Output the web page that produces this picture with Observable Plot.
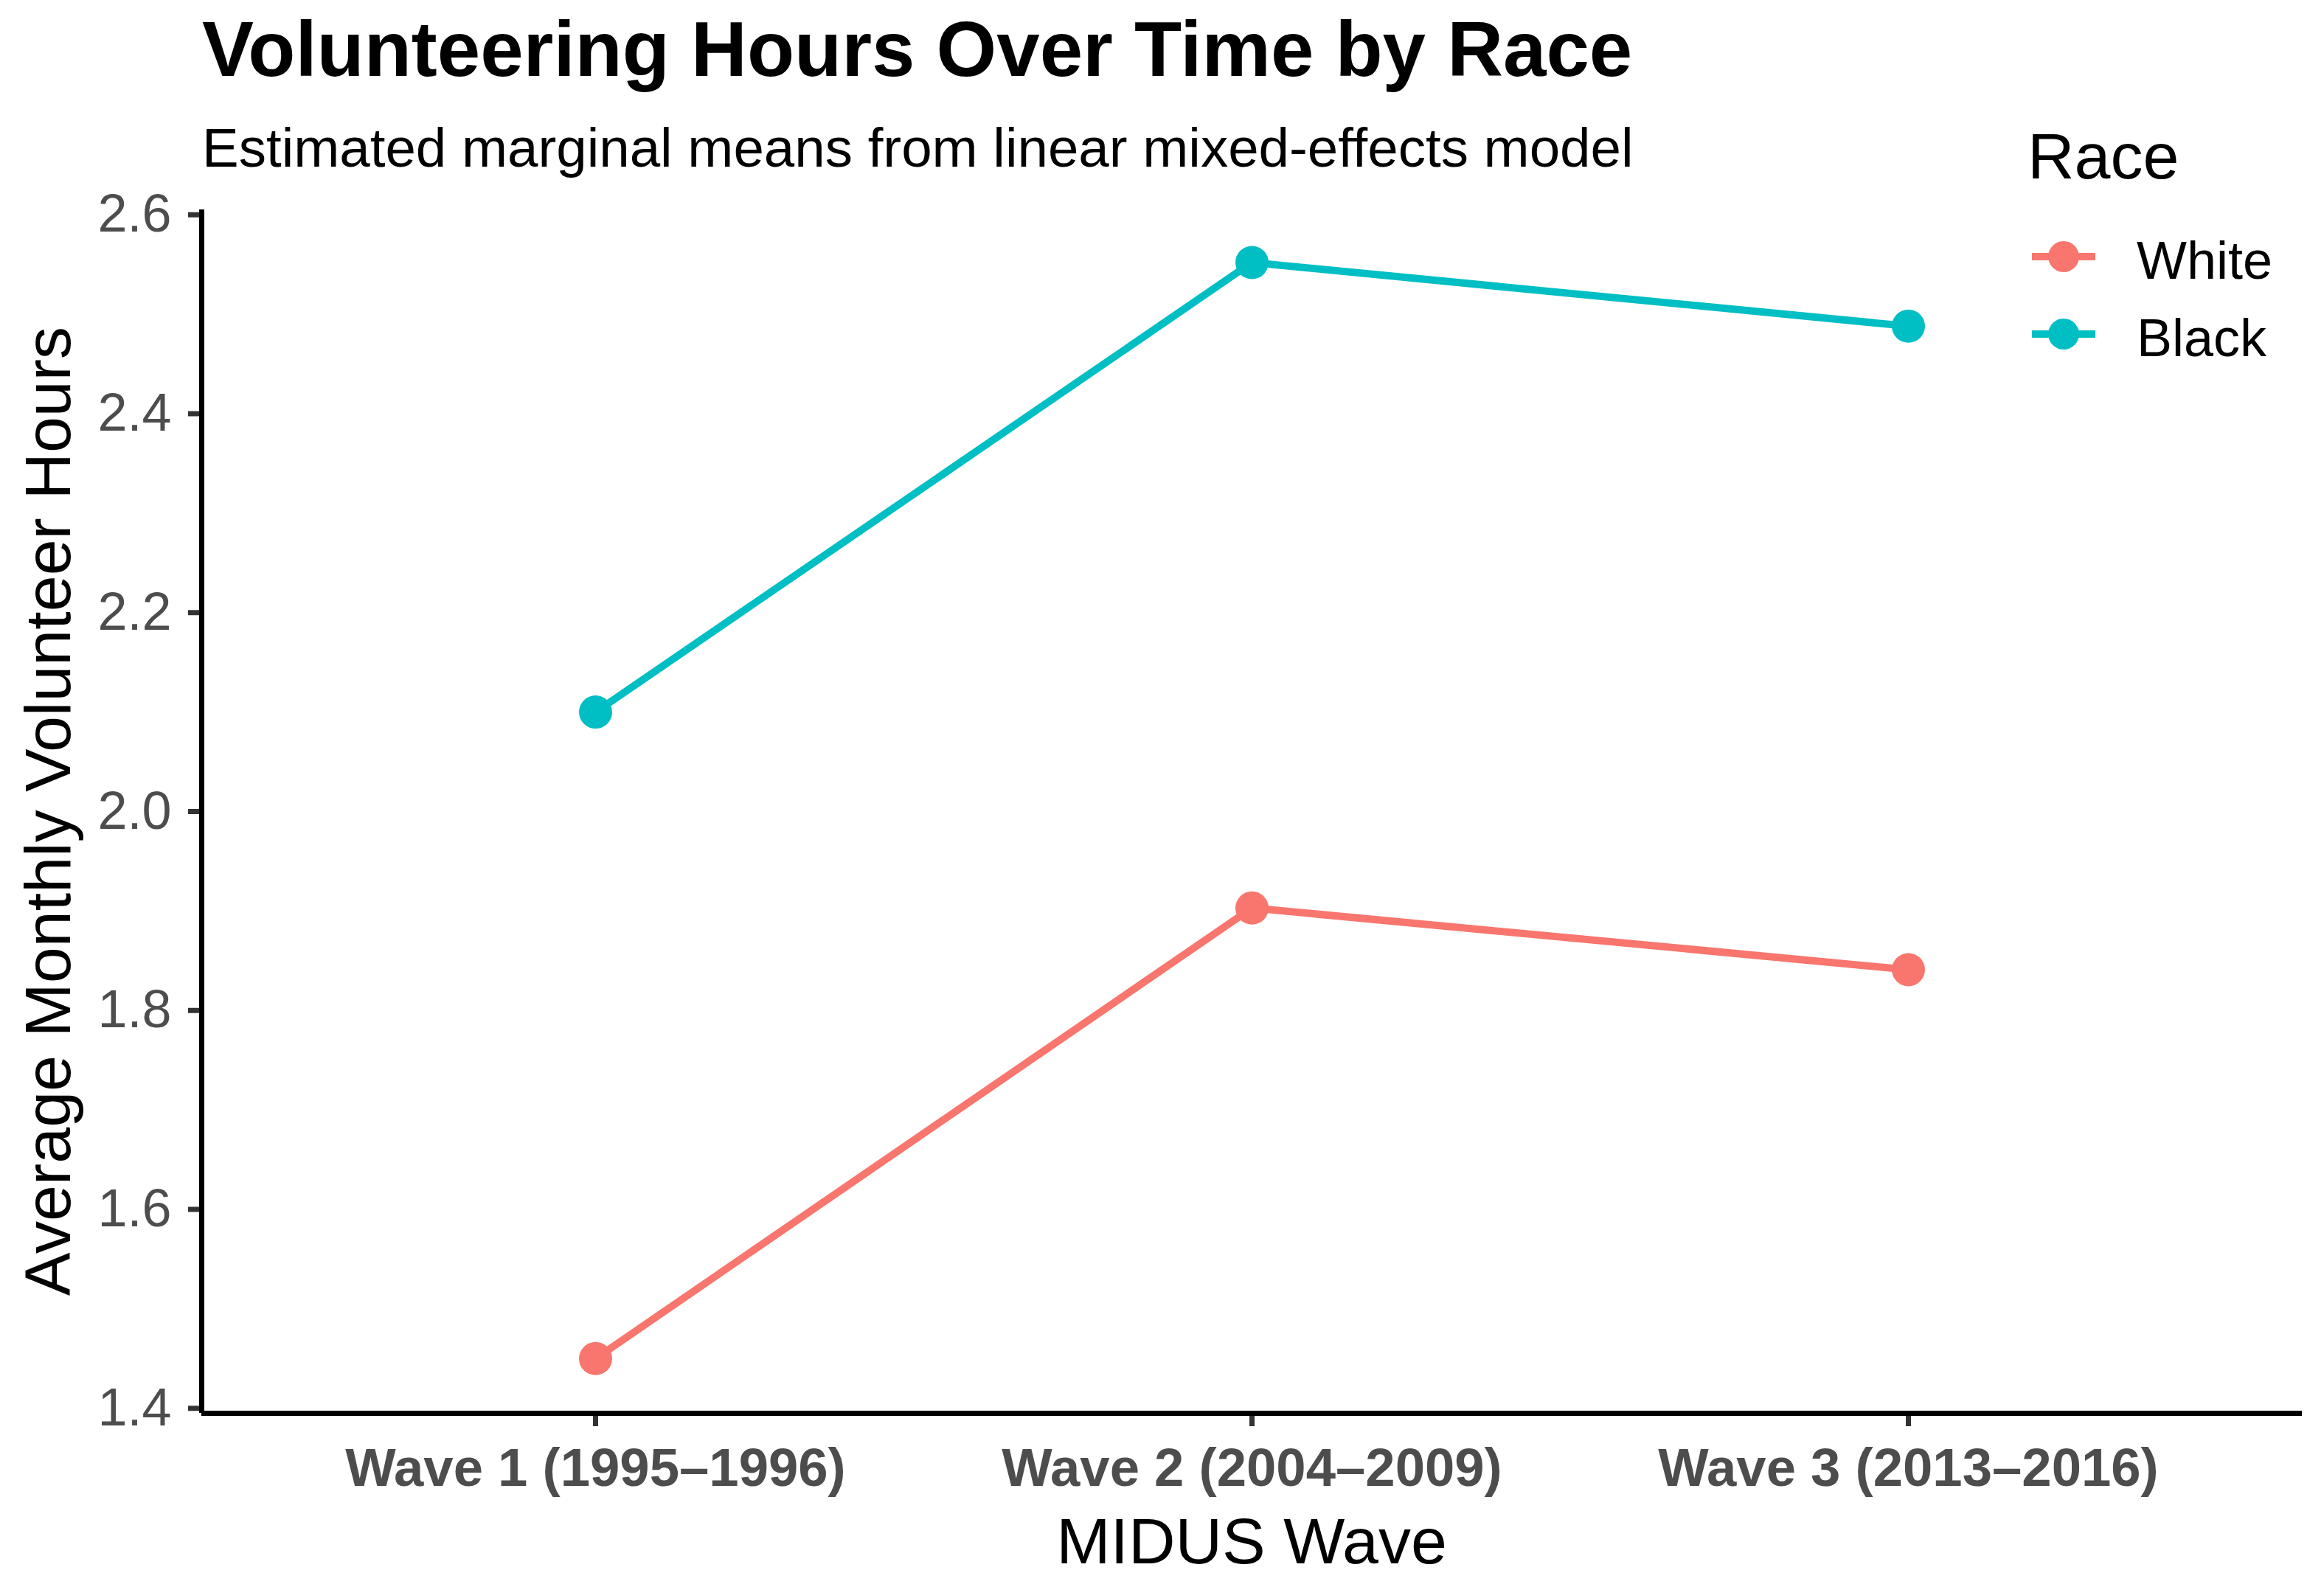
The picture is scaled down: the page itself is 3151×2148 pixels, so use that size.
<!DOCTYPE html>
<html>
<head>
<meta charset="utf-8">
<script src="https://cdn.jsdelivr.net/npm/d3@7"></script>
<script src="https://cdn.jsdelivr.net/npm/@observablehq/plot@0.6"></script>
<style>
  html, body { margin: 0; padding: 0; background: #ffffff; }
  #wrap { position: relative; width: 3151px; height: 2148px; overflow: hidden;
          font-family: "Liberation Sans", Arial, sans-serif; background: #fff; }
  .abs { position: absolute; line-height: 1; white-space: nowrap; }
  #chart { position: absolute; left: 0; top: 0; }
</style>
</head>
<body>
<div id="wrap">
  <div id="chart"></div>
  <div id="title" class="abs" style="left:274px; top:14px; font-size:105px; font-weight:bold; color:#000;"></div>
  <div id="subtitle" class="abs" style="left:274px; top:164px; font-size:74.5px; color:#000;"></div>
  <div id="xtitle" class="abs" style="left:697px; width:2000px; text-align:center; top:2046px; font-size:88px; color:#000;"></div>
  <div id="ytitle" class="abs" style="left:-935px; width:2000px; text-align:center; top:1056px; height:88px; font-size:88px; color:#000; transform:rotate(-90deg); transform-origin:50% 50%;"></div>
  <div id="legend"></div>
</div>
<script>
// ---- Data ----
const waves = ["Wave 1 (1995–1996)", "Wave 2 (2004–2009)", "Wave 3 (2013–2016)"];
const races = ["White", "Black"];
const whiteHours = [1.45, 1.903, 1.841];
const blackHours = [2.10, 2.552, 2.488];
const raceColors = ["#F8766D", "#00BFC4"];
const yTicks = [1.4, 1.6, 1.8, 2.0, 2.2, 2.4, 2.6];

const titleText = "Volunteering Hours Over Time by Race";
const subtitleText = "Estimated marginal means from linear mixed-effects model";
const xTitle = "MIDUS Wave";
const yTitle = "Average Monthly Volunteer Hours";
const legendTitle = "Race";

// tidy table built from the arrays
const series = {White: whiteHours, Black: blackHours};
const data = [];
for (const race of races) {
  series[race].forEach((v, i) => data.push({race, wave: waves[i], idx: i + 1, hours: v}));
}

const plot = Plot.plot({
  width: 3151,
  height: 2148,
  marginTop: 284,
  marginLeft: 273,
  marginRight: 30,
  marginBottom: 232,
  style: {fontFamily: "'Liberation Sans', Arial, sans-serif", background: "#ffffff", overflow: "visible"},
  x: {type: "linear", domain: [0.4, 3.6]},
  y: {domain: [1.395, 2.605]},
  color: {type: "ordinal", domain: races, range: raceColors},
  marks: [
    Plot.axisY({
      ticks: yTicks, tickFormat: d3.format(".1f"), tickSize: 18, tickPadding: 23,
      stroke: "#333333", strokeWidth: 7, fill: "#4D4D4D", fontSize: 72, label: null
    }),
    Plot.axisX({
      ticks: [1, 2, 3], tickFormat: (d) => waves[d - 1], tickSize: 18, tickPadding: 29,
      stroke: "#333333", strokeWidth: 7, fill: "#4D4D4D", fontSize: 72.5, fontWeight: "bold", label: null
    }),
    Plot.ruleX([0.4], {stroke: "#000000", strokeWidth: 7}),
    Plot.ruleY([1.395], {stroke: "#000000", strokeWidth: 7}),
    Plot.line(data, {x: "idx", y: "hours", z: "race", stroke: {value: "race", scale: "color"}, strokeWidth: 10}),
    Plot.dot(data, {x: "idx", y: "hours", fill: {value: "race", scale: "color"}, r: 22.5, stroke: null})
  ]
});
document.getElementById("chart").appendChild(plot);

document.getElementById("title").textContent = titleText;
document.getElementById("subtitle").textContent = subtitleText;
document.getElementById("xtitle").textContent = xTitle;
document.getElementById("ytitle").textContent = yTitle;

// ---- Legend (colours from the plot's colour scale) ----
const color = plot.scale("color");
const legend = document.getElementById("legend");
const lt = document.createElement("div");
lt.className = "abs";
lt.style.cssText = "left:2749px; top:168px; font-size:88px; color:#000;";
lt.textContent = legendTitle;
legend.appendChild(lt);
const keyCenters = [348, 453];
races.forEach((race, i) => {
  const c = color.apply(race);
  const cy = keyCenters[i];
  const sw = document.createElementNS("http://www.w3.org/2000/svg", "svg");
  sw.setAttribute("width", 86);
  sw.setAttribute("height", 46);
  sw.style.cssText = `position:absolute; left:2755px; top:${cy - 23}px;`;
  sw.innerHTML = `<line x1="0" x2="86" y1="23" y2="23" stroke="${c}" stroke-width="10"/>` +
                 `<circle cx="43" cy="23" r="21" fill="${c}"/>`;
  legend.appendChild(sw);
  const lab = document.createElement("div");
  lab.className = "abs";
  lab.style.cssText = `left:2897px; top:${cy + 30 - 61}px; font-size:72px; color:#000;`;
  lab.textContent = race;
  legend.appendChild(lab);
});
</script>
</body>
</html>
